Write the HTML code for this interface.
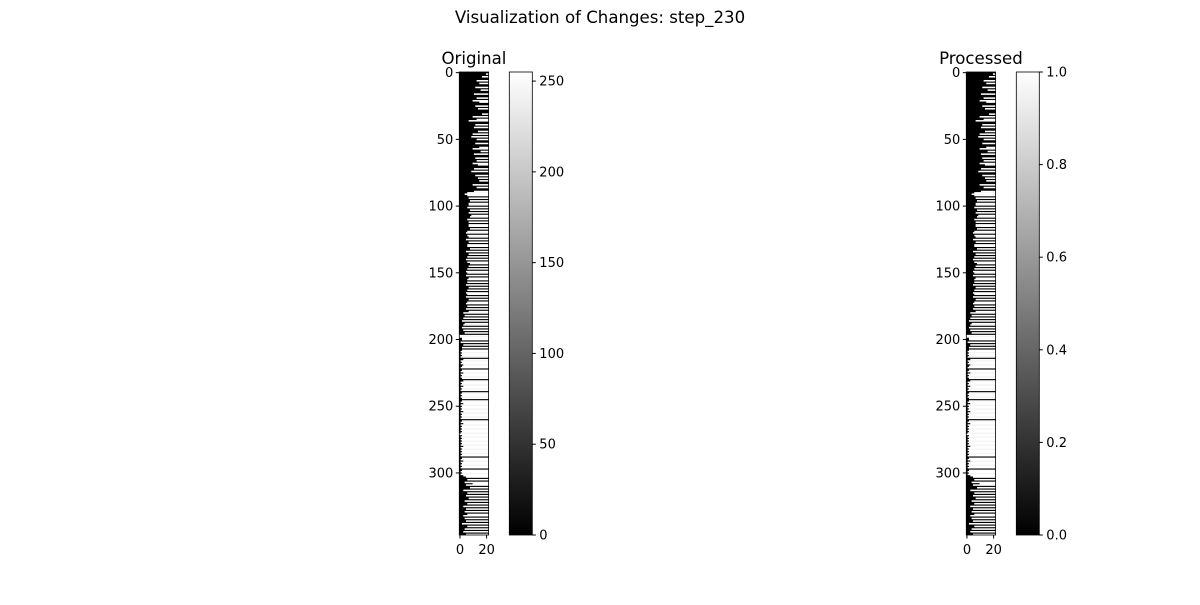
<!DOCTYPE html>
<html><head><meta charset="utf-8"><style>
body{margin:0;background:#fff;font-family:"Liberation Sans","DejaVu Sans",sans-serif}
svg text{font-family:"DejaVu Sans","Liberation Sans",sans-serif;font-size:13px;fill:#000}
</style></head><body>
<svg id="fig" width="1200" height="600" xmlns="http://www.w3.org/2000/svg">
<rect width="1200" height="600" fill="#fff"/>
<text x="600" y="23" text-anchor="middle" style="font-size:16.6px">Visualization of Changes: step_230</text>
<defs><linearGradient id="g" x1="0" y1="1" x2="0" y2="0"><stop offset="0" stop-color="#000"/><stop offset="1" stop-color="#fff"/></linearGradient></defs>
</svg>
<script>
// white-segment start column per row (base-23: 0-9,a-m ; m = fully black row)
const rowCode =
"mkmhmmdmfmmcmgmmbmmdmafmmcmemm"+
"mhmamd7mmcmbmmemam9mdmmcmmfamg"+
"mbmmcmdmaemmbm9mmcmemfmmamdmmb"+
"646m7m8m77m6m8m7m98m6m7m77m8m6"+
"5m67m5m7m66m8m5m7m6m5m68m7m6m5"+
"6m5m76m6m5m7m6m56m5m7m65m6m5m7"+
"3m4m3m2m43m2m3m4m0022m1m3m2m21"+
"2121m3121321m2131212m31213121m2"+
"1212m21312121312121m21312121210"+
"2121212131212121m21312121m2121"+
"35m6m4a5m8m3m6m5m7m4m6m3m5m4m6"+
"3m4m5m2m6m4m3m5m2m4m";
const nRows = 347, nCols = 22;
const yTicks = [0,50,100,150,200,250,300];
const xTicks = [0,20];
const cbTicksA = [0,50,100,150,200,250];
const cbTicksB = [0,0.2,0.4,0.6,0.8,1.0];
const NS="http://www.w3.org/2000/svg";
const svg=document.getElementById('fig');
function el(t,a){const e=document.createElementNS(NS,t);for(const k in a)e.setAttribute(k,a[k]);svg.appendChild(e);return e;}
function panel(ox,title,cbTicks,cbMax,fmt,nm){
  const top=72,bot=535,left=ox,w=29.3,rh=(bot-top)/nRows,cw=w/nCols;
  const y=r=>top+r*rh, x=c=>left+c*cw;
  const bg=el('rect',{x:left,y:top,width:w,height:bot-top,fill:'#000'});
  
  
  for(let r=0;r<nRows;r++){
    const s=parseInt(rowCode[r]||'m',23);
    if(s>=nCols)continue;
    const c=el('rect',{x:x(s),y:y(r),width:x(nCols)-x(s),height:rh+0.2,fill:'#fff'});
    
    
  }
  el('rect',{x:left,y:top,width:w,height:bot-top,fill:'none',stroke:'#000','stroke-width':0.8});
  const t=el('text',{x:left+w/2,y:64,'text-anchor':'middle',style:'font-size:16.6px'});t.textContent=title;
  
  
  yTicks.forEach(v=>{const yy=y(v+0.5);el('line',{x1:left-3.5,x2:left,y1:yy,y2:yy,stroke:'#000'});
    const tx=el('text',{x:left-6,y:yy+4.5,'text-anchor':'end'});tx.textContent=v;
    
    });
  xTicks.forEach(v=>{const xx=x(v+0.5);el('line',{x1:xx,x2:xx,y1:bot,y2:bot+3.5,stroke:'#000'});
    const tx=el('text',{x:xx,y:bot+19,'text-anchor':'middle'});tx.textContent=v;
    
    });
  const cx=left+50,cwid=23;
  const cb=el('rect',{x:cx,y:top,width:cwid,height:bot-top,fill:'url(#g)',stroke:'#000','stroke-width':0.8});
  
  
  cbTicks.forEach(v=>{const yy=bot-(v/cbMax)*(bot-top);el('line',{x1:cx+cwid,x2:cx+cwid+3.5,y1:yy,y2:yy,stroke:'#000'});
    const tx=el('text',{x:cx+cwid+7,y:yy+4.5});tx.textContent=fmt(v);
    
    });
}
panel(459.3,'Original',cbTicksA,255,v=>v,'original');
panel(966.3,'Processed',cbTicksB,1,v=>v.toFixed(1),'processed');
</script>
</body></html>
